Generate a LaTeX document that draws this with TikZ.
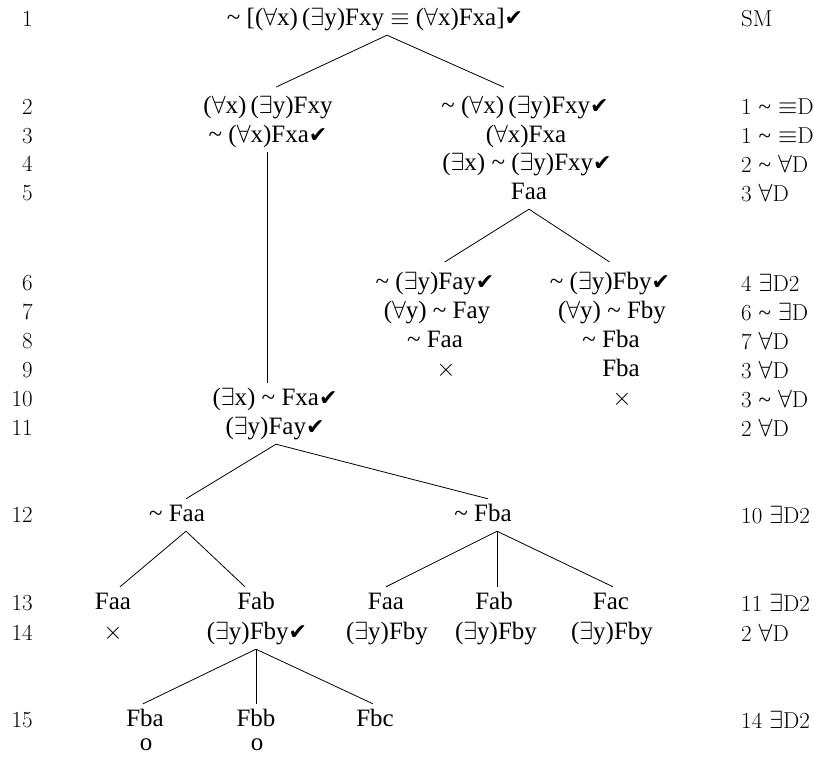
\documentclass[tikz,border=0pt]{standalone}
\usepackage{fontspec}
\newfontfamily\tfont{Liberation Serif}
\newfontfamily\chkfont{DejaVu Sans}
\newcommand{\nt}{{\tfont\char"7E}}
\newcommand{\chk}{{\chkfont\fontsize{22}{22}\selectfont\char"2714}}
\newcommand{\qall}[1]{(\(\forall\)#1)}
\newcommand{\qex}[1]{(\(\exists\)#1)}
\tikzset{
  fml/.style={font=\tfont\fontsize{25}{30}\selectfont,text height=17pt,text depth=5pt,inner xsep=0pt,inner ysep=5pt},
  opn/.style={fml,text height=6pt,text depth=0pt,inner ysep=1pt},
  lno/.style={font=\fontsize{23}{28}\selectfont,anchor=east,inner sep=0pt},
  jst/.style={font=\fontsize{23}{28}\selectfont,anchor=west,inner sep=0pt},
  br/.style={line width=0.8pt},
  far/.style={br,shorten >=9pt}
}
\begin{document}
\begin{tikzpicture}[x=1pt,y=-1pt]
  \useasboundingbox (0,0) rectangle (814,758);
  % line numbers and justifications
  \foreach \n/\y/\j in {1/19/SM,2/107/{1 \nt\ \(\equiv\)D},3/136/{1 \nt\ \(\equiv\)D},4/164/{2 \nt\ \(\forall\)D},
      5/193/{3 \(\forall\)D},6/283/{4 \(\exists\)D2},7/312/{6 \nt\ \(\exists\)D},8/341/{7 \(\forall\)D},
      9/370/{3 \(\forall\)D},10/399/{3 \nt\ \(\forall\)D},11/428/{2 \(\forall\)D},12/515/{10 \(\exists\)D2},
      13/603/{11 \(\exists\)D2},14/633/{2 \(\forall\)D},15/720/{14 \(\exists\)D2}}{
    \node[lno] (l\n) at (33,\y) {\n};
    \node[jst] (j\n) at (741,\y) {\j};
  }
  % trunk
  \node[fml] (r1) at (375,19) {\nt\ [\qall{x}\,\qex{y}Fxy \(\equiv\) \qall{x}Fxa]\chk};
  \node[fml] (a2) at (268,107) {\qall{x}\,\qex{y}Fxy};
  \node[fml] (a3) at (268,136) {\nt\ \qall{x}Fxa\chk};
  \node[fml] (b2) at (525,107) {\nt\ \qall{x}\,\qex{y}Fxy\chk};
  \node[fml] (b3) at (526,136) {\qall{x}Fxa};
  \node[fml] (b4) at (527,164) {\qex{x} \nt\ \qex{y}Fxy\chk};
  \node[fml] (b5) at (529,193) {Faa};
  \draw[far] ([xshift=12pt]r1.south) -- (a2.north);
  \draw[far] ([xshift=12pt]r1.south) -- ([xshift=-13pt]b2.north);
  % right branch, closes
  \node[fml] (c6) at (435,283) {\nt\ \qex{y}Fay\chk};
  \node[fml] (c7) at (437,312) {\qall{y} \nt\ Fay};
  \node[fml] (c8) at (435,341) {\nt\ Faa};
  \node[fml] (c9) at (446,370) {\(\times\)};
  \node[fml] (d6) at (610,283) {\nt\ \qex{y}Fby\chk};
  \node[fml] (d7) at (612,312) {\qall{y} \nt\ Fby};
  \node[fml] (d8) at (611,341) {\nt\ Fba};
  \node[fml] (d9) at (621,370) {Fba};
  \node[fml] (d10) at (622,399) {\(\times\)};
  \draw[far] (b5.south) -- ([xshift=2pt]c6.north);
  \draw[far] (b5.south) -- ([xshift=7pt]d6.north);
  % left branch continues
  \node[fml] (a10) at (275,399) {\qex{x} \nt\ Fxa\chk};
  \node[fml] (a11) at (275,428) {\qex{y}Fay\chk};
  \draw[br] ([xshift=-1pt]a3.south) -- ([xshift=-8pt]a10.north);
  \node[fml] (e12) at (177,515) {\nt\ Faa};
  \node[fml] (f12) at (483,515) {\nt\ Fba};
  \draw[br] ([xshift=1pt]a11.south) -- ([xshift=9pt]e12.north);
  \draw[br] ([xshift=1pt]a11.south) -- ([xshift=5pt]f12.north);
  % third level
  \node[fml] (e13) at (113,603) {Faa};
  \node[fml] (e14) at (113,633) {\(\times\)};
  \node[fml] (g13) at (256,603) {Fab};
  \node[fml] (g14) at (257,633) {\qex{y}Fby\chk};
  \node[fml] (h13) at (386,603) {Faa};
  \node[fml] (h14) at (387,633) {\qex{y}Fby};
  \node[fml] (i13) at (494,603) {Fab};
  \node[fml] (i14) at (496,633) {\qex{y}Fby};
  \node[fml] (k13) at (611,603) {Fac};
  \node[fml] (k14) at (612,633) {\qex{y}Fby};
  \draw[br] ([xshift=9pt]e12.south) -- ([xshift=7pt]e13.north);
  \draw[br] ([xshift=9pt]e12.south) -- ([xshift=-11pt]g13.north);
  \draw[br] ([xshift=14pt]f12.south) -- (h13.north);
  \draw[br] ([xshift=14pt]f12.south) -- ([xshift=3pt]i13.north);
  \draw[br] ([xshift=14pt]f12.south) -- ([xshift=2pt]k13.north);
  % open branches
  \node[fml] (m15) at (145,720) {Fba};
  \node[opn] (m16) at (146,747) {o};
  \node[fml] (n15) at (256,720) {Fbb};
  \node[opn] (n16) at (257,747) {o};
  \node[fml] (p15) at (375,720) {Fbc};
  \draw[br] ([xshift=-1pt]g14.south) -- ([xshift=-2pt]m15.north);
  \draw[br] ([xshift=-1pt]g14.south) -- (n15.north);
  \draw[br] ([xshift=-1pt]g14.south) -- ([xshift=-2pt]p15.north);
\end{tikzpicture}
\end{document}
